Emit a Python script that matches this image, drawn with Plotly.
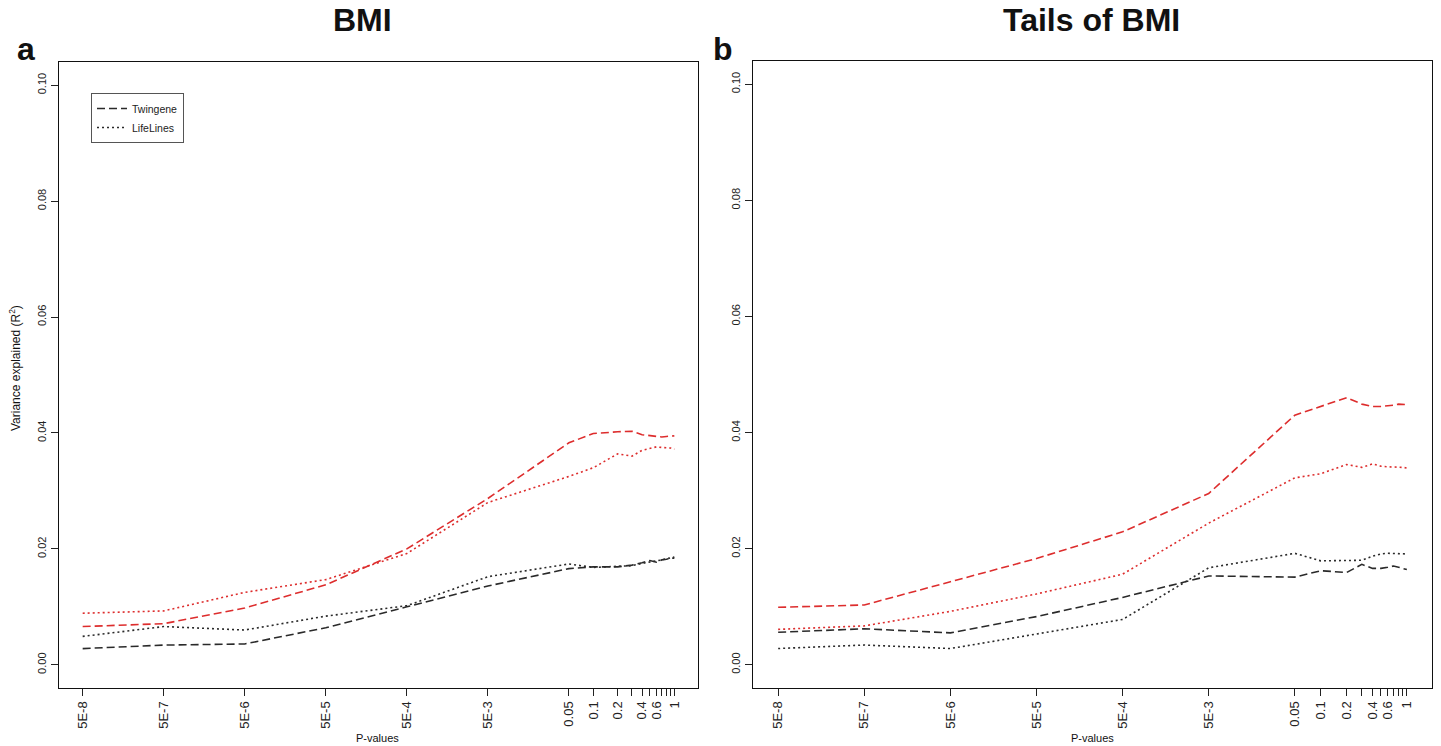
import math
import plotly.graph_objects as go

# P-value thresholds used to build the scores
thresholds = [5e-8, 5e-7, 5e-6, 5e-5, 5e-4, 5e-3, 0.05, 0.1, 0.2, 0.3,
              0.4, 0.5, 0.6, 0.7, 0.8, 0.9, 1.0]
# thresholds that carry a tick label; the rest get an unlabeled tick
labeled_ticks = [5e-8, 5e-7, 5e-6, 5e-5, 5e-4, 5e-3, 0.05, 0.1, 0.2, 0.4, 0.6, 1.0]
tick_text = ["5E-8", "5E-7", "5E-6", "5E-5", "5E-4", "5E-3", "0.05", "0.1",
             "0.2", "0.4", "0.6", "1"]
unlabeled_ticks = [0.3, 0.5, 0.7, 0.8, 0.9]
y_ticks = [0.0, 0.02, 0.04, 0.06, 0.08, 0.10]
y_tick_text = ["0.00", "0.02", "0.04", "0.06", "0.08", "0.10"]

# Panel a: BMI (variance explained, R^2)
bmi_twingene_red = [0.0066, 0.0071, 0.0098, 0.0138, 0.0200, 0.0287, 0.0383, 0.0399, 0.0402,
                    0.0403, 0.0397, 0.0395, 0.0394, 0.0393, 0.0394, 0.0395, 0.0395]
bmi_lifelines_red = [0.0089, 0.0093, 0.0125, 0.0147, 0.0192, 0.0280, 0.0325, 0.0340, 0.0364,
                     0.0360, 0.0370, 0.0374, 0.0376, 0.0375, 0.0375, 0.0374, 0.0372]
bmi_twingene_black = [0.0028, 0.0034, 0.0036, 0.0064, 0.0100, 0.0136, 0.0166, 0.0169, 0.0169,
                      0.0172, 0.0176, 0.0180, 0.0177, 0.0181, 0.0182, 0.0184, 0.0184]
bmi_lifelines_black = [0.0049, 0.0066, 0.0060, 0.0084, 0.0102, 0.0152, 0.0174, 0.0168, 0.0170,
                       0.0171, 0.0175, 0.0177, 0.0179, 0.0181, 0.0183, 0.0185, 0.0186]

# Panel b: tails of BMI
tails_twingene_red = [0.0099, 0.0103, 0.0143, 0.0183, 0.0229, 0.0295, 0.0430, 0.0445, 0.0460,
                      0.0449, 0.0445, 0.0445, 0.0446, 0.0447, 0.0449, 0.0449, 0.0448]
tails_lifelines_red = [0.0061, 0.0067, 0.0092, 0.0122, 0.0156, 0.0244, 0.0322, 0.0329, 0.0345,
                       0.0340, 0.0346, 0.0342, 0.0341, 0.0341, 0.0340, 0.0340, 0.0339]
tails_twingene_black = [0.0056, 0.0062, 0.0055, 0.0083, 0.0116, 0.0153, 0.0151, 0.0162, 0.0159,
                        0.0173, 0.0166, 0.0166, 0.0168, 0.0170, 0.0168, 0.0166, 0.0164]
tails_lifelines_black = [0.0028, 0.0034, 0.0028, 0.0053, 0.0078, 0.0167, 0.0192, 0.0179, 0.0179,
                         0.0180, 0.0187, 0.0191, 0.0192, 0.0192, 0.0192, 0.0191, 0.0191]

RED = "#dd2d2d"
BLACK = "#2a2a2a"
DASH = "8px,4px"
DOT = "2px,3px"
FONT = "Liberation Sans, Arial, Helvetica, sans-serif"

W, H = 1441, 746

fig = go.Figure()

panels = [
    ("x", "y", [bmi_twingene_red, bmi_lifelines_red, bmi_twingene_black, bmi_lifelines_black]),
    ("x2", "y2", [tails_twingene_red, tails_lifelines_red, tails_twingene_black, tails_lifelines_black]),
]
for xa, ya, series in panels:
    for values, color, dash in zip(series, [RED, RED, BLACK, BLACK], [DASH, DOT, DASH, DOT]):
        fig.add_trace(go.Scatter(
            x=thresholds, y=values, mode="lines", xaxis=xa, yaxis=ya,
            line=dict(color=color, width=1.6, dash=dash), showlegend=False,
            hoverinfo="x+y",
        ))

# Legend entries (line style only)
for name, dash in [("Twingene", DASH), ("LifeLines", DOT)]:
    fig.add_trace(go.Scatter(
        x=[None], y=[None], mode="lines", name=name, xaxis="x", yaxis="y",
        line=dict(color=BLACK, width=1.6, dash=dash),
    ))

# axis ranges padded by 4% like base R graphics
lo, hi = math.log10(min(thresholds)), math.log10(max(thresholds))
pad = 0.04 * (hi - lo)
x_range = [lo - pad, hi + pad]
y_range = [-0.004, 0.104]

common_x = dict(
    type="log", range=x_range, tickmode="array", tickvals=labeled_ticks, ticktext=tick_text,
    tickangle=-90, ticks="outside", ticklen=7, tickwidth=1, tickcolor="#222",
    minor=dict(tickmode="array", tickvals=unlabeled_ticks, ticks="outside",
               ticklen=7, tickwidth=1, tickcolor="#222", showgrid=False),
    showline=True, linecolor="#111", linewidth=1.3, mirror=True,
    showgrid=False, zeroline=False,
    tickfont=dict(family=FONT, size=13, color="#222"),
)
common_y = dict(
    range=y_range, tickvals=y_ticks, ticktext=y_tick_text, tickangle=-90,
    ticks="outside", ticklen=7, tickwidth=1, tickcolor="#222",
    showline=True, linecolor="#111", linewidth=1.3, mirror=True,
    showgrid=False, zeroline=False,
    tickfont=dict(family=FONT, size=11, color="#222"),
)

fig.update_layout(
    width=W, height=H, autosize=False,
    margin=dict(l=0, r=0, t=0, b=0),
    paper_bgcolor="white", plot_bgcolor="white",
    xaxis=dict(domain=[59 / W, 698 / W], anchor="y", **common_x),
    yaxis=dict(domain=[(H - 688) / H, (H - 62) / H], anchor="x", **common_y),
    xaxis2=dict(domain=[753 / W, 1432 / W], anchor="y2", **common_x),
    yaxis2=dict(domain=[(H - 688) / H, (H - 61) / H], anchor="x2", **common_y),
    legend=dict(
        x=91 / W, y=1 - 93 / H, xanchor="left", yanchor="top",
        bordercolor="#555", borderwidth=1, bgcolor="white",
        font=dict(family=FONT, size=10.5, color="#222"),
        tracegroupgap=0, itemwidth=30,
    ),
)

annotations = [
    dict(text="<b>BMI</b>", x=363 / W, y=1 - 20 / H, font=dict(size=32)),
    dict(text="<b>Tails of BMI</b>", x=1091 / W, y=1 - 20 / H, font=dict(size=32)),
    dict(text="<b>a</b>", x=26 / W, y=1 - 49 / H, font=dict(size=32)),
    dict(text="<b>b</b>", x=723 / W, y=1 - 49 / H, font=dict(size=32)),
    dict(text="P-values", x=378 / W, y=1 - 738 / H, font=dict(size=11)),
    dict(text="P-values", x=1092 / W, y=1 - 738 / H, font=dict(size=11)),
    dict(text="Variance explained (R<sup>2</sup>)", x=15 / W, y=1 - 368 / H,
         textangle=-90, font=dict(size=12)),
]
for a in annotations:
    a["font"] = dict(family=FONT, color="#111", **a["font"])
    fig.add_annotation(xref="paper", yref="paper", showarrow=False,
                       xanchor="center", yanchor="middle", **a)

fig.write_html("out.html")
